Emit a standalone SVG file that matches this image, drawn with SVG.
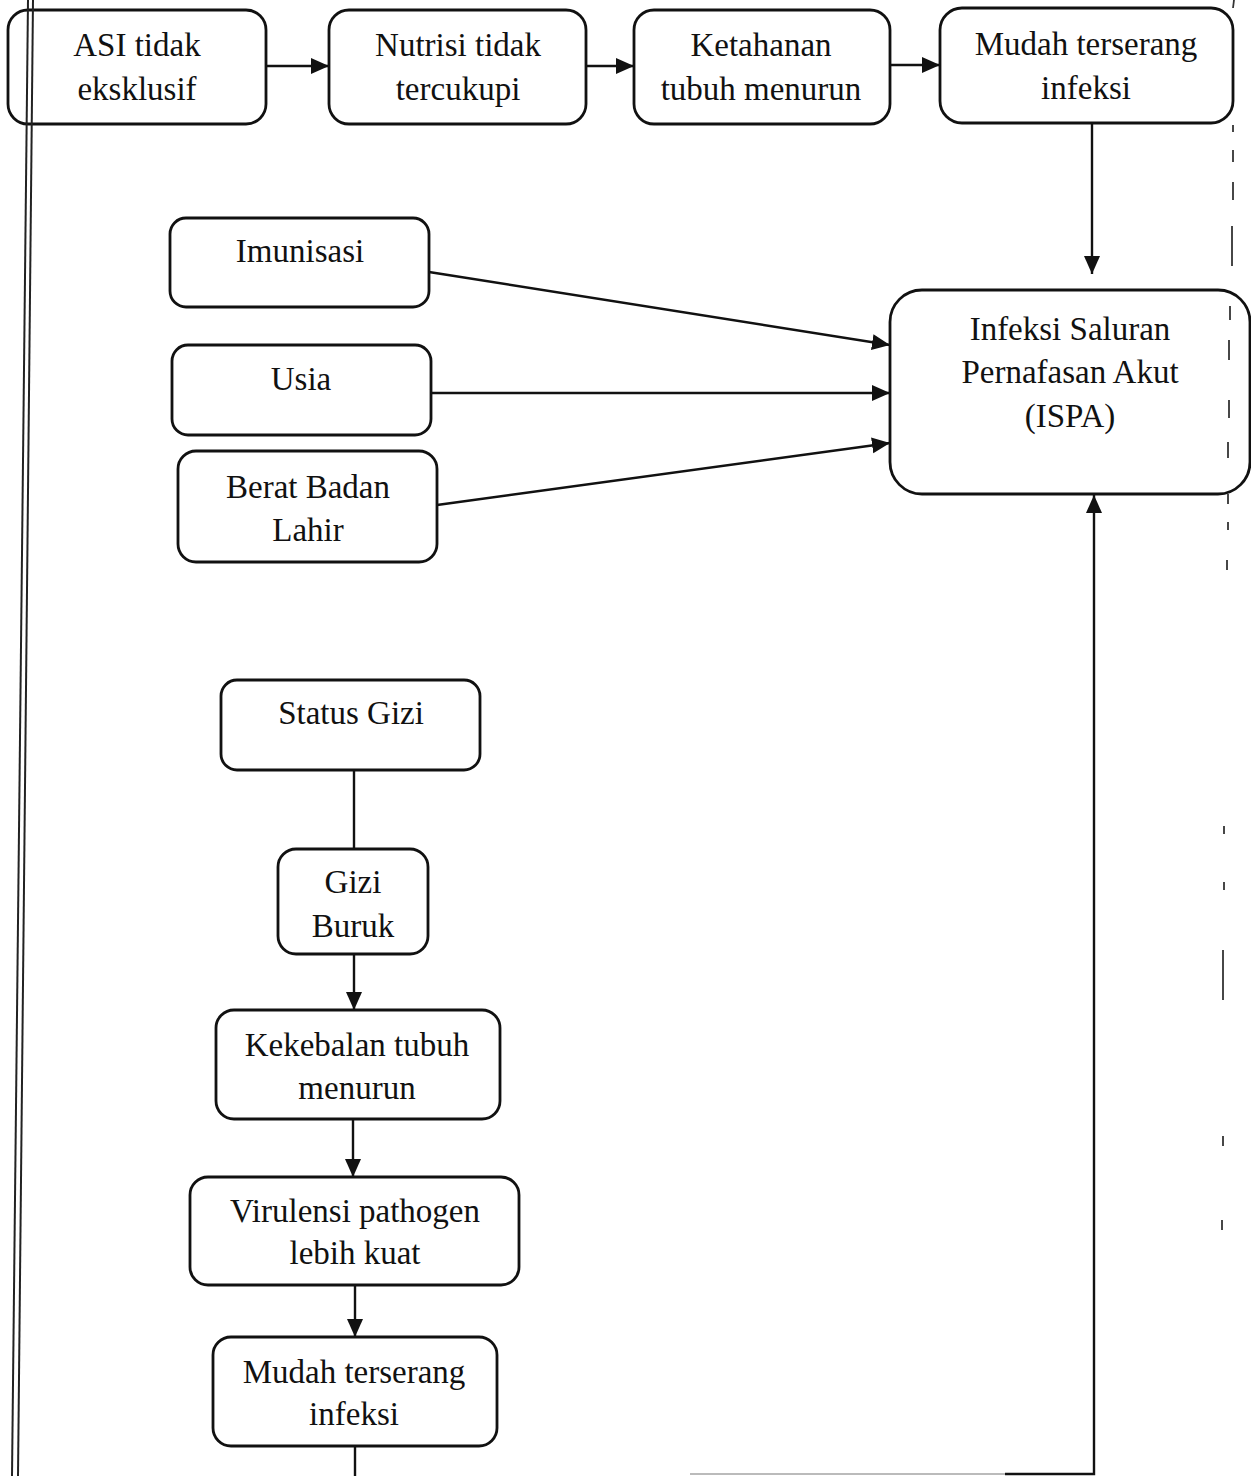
<svg xmlns="http://www.w3.org/2000/svg" width="1251" height="1476" viewBox="0 0 1251 1476">
<style>
.box{fill:#fff;stroke:#111;stroke-width:2.8}
.t{font-family:"Liberation Serif","Times New Roman",serif;font-size:33px;fill:#111;text-anchor:middle}
.c{fill:none;stroke:#111;stroke-width:2.4}
.frame{fill:none;stroke:#222;stroke-width:2}
.d{stroke:#333;stroke-width:1.8}
</style>
<defs>
<marker id="ah" markerUnits="userSpaceOnUse" markerWidth="20" markerHeight="18" refX="18" refY="8" orient="auto">
<path d="M0,0 L18,8 L0,16 Z" fill="#111"/>
</marker>
</defs>
<rect width="1251" height="1476" fill="#fff"/>
<g id="connectors">
<line class="c" x1="266" y1="66" x2="329" y2="66" marker-end="url(#ah)"/>
<line class="c" x1="586" y1="66" x2="634" y2="66" marker-end="url(#ah)"/>
<line class="c" x1="890" y1="65" x2="940" y2="65" marker-end="url(#ah)"/>
<line class="c" x1="1092" y1="123" x2="1092" y2="274" marker-end="url(#ah)"/>
<line class="c" x1="429" y1="272" x2="890" y2="345" marker-end="url(#ah)"/>
<line class="c" x1="431" y1="393" x2="890" y2="393" marker-end="url(#ah)"/>
<line class="c" x1="437" y1="505" x2="890" y2="443" marker-end="url(#ah)"/>
<line class="c" x1="354" y1="770" x2="354" y2="849"/>
<line class="c" x1="354" y1="954" x2="354" y2="1010" marker-end="url(#ah)"/>
<line class="c" x1="353" y1="1119" x2="353" y2="1177" marker-end="url(#ah)"/>
<line class="c" x1="355" y1="1285" x2="355" y2="1337" marker-end="url(#ah)"/>
<line class="c" x1="355" y1="1446" x2="355" y2="1476"/>
<line x1="690" y1="1474" x2="1005" y2="1474" stroke="#bbb" stroke-width="2"/>
<path class="c" d="M1005,1474 H1094 V495" marker-end="url(#ah)"/>
</g>
<g id="n1"><rect class="box" x="8" y="10" width="258" height="114" rx="20"/><text class="t" x="137" y="56">ASI  tidak</text><text class="t" x="137" y="100">eksklusif</text></g>
<g id="n2"><rect class="box" x="329" y="10" width="257" height="114" rx="20"/><text class="t" x="458" y="56">Nutrisi tidak</text><text class="t" x="458" y="100">tercukupi</text></g>
<g id="n3"><rect class="box" x="634" y="10" width="256" height="114" rx="20"/><text class="t" x="761" y="56">Ketahanan</text><text class="t" x="761" y="100">tubuh menurun</text></g>
<g id="n4"><rect class="box" x="940" y="8" width="293" height="115" rx="22"/><text class="t" x="1086" y="55">Mudah terserang</text><text class="t" x="1086" y="99">infeksi</text></g>
<g id="ispa"><rect class="box" x="890" y="290" width="360" height="204" rx="32"/><text class="t" x="1070" y="340">Infeksi Saluran</text><text class="t" x="1070" y="383">Pernafasan Akut</text><text class="t" x="1070" y="427">(ISPA)</text></g>
<g id="imunisasi"><rect class="box" x="170" y="218" width="259" height="89" rx="16"/><text class="t" x="300" y="262">Imunisasi</text></g>
<g id="usia"><rect class="box" x="172" y="345" width="259" height="90" rx="16"/><text class="t" x="301" y="390">Usia</text></g>
<g id="bbl"><rect class="box" x="178" y="451" width="259" height="111" rx="18"/><text class="t" x="308" y="498">Berat Badan</text><text class="t" x="308" y="541">Lahir</text></g>
<g id="statusgizi"><rect class="box" x="221" y="680" width="259" height="90" rx="16"/><text class="t" x="351" y="724">Status Gizi</text></g>
<g id="giziburuk"><rect class="box" x="278" y="849" width="150" height="105" rx="18"/><text class="t" x="353" y="893">Gizi</text><text class="t" x="353" y="937">Buruk</text></g>
<g id="kekebalan"><rect class="box" x="216" y="1010" width="284" height="109" rx="18"/><text class="t" x="357" y="1056">Kekebalan tubuh</text><text class="t" x="357" y="1099">menurun</text></g>
<g id="virulensi"><rect class="box" x="190" y="1177" width="329" height="108" rx="18"/><text class="t" x="355" y="1222">Virulensi pathogen</text><text class="t" x="355" y="1264">lebih kuat</text></g>
<g id="mudah2"><rect class="box" x="213" y="1337" width="284" height="109" rx="18"/><text class="t" x="354" y="1383">Mudah terserang</text><text class="t" x="354" y="1425">infeksi</text></g>
<g id="frame">
<line class="frame" x1="28" y1="0" x2="12" y2="1476"/>
<line class="frame" x1="33" y1="0" x2="18" y2="1476"/>
<line class="d" x1="1234" y1="0" x2="1233" y2="8"/>
<line class="d" x1="1233" y1="125" x2="1233" y2="132"/>
<line class="d" x1="1233" y1="150" x2="1233" y2="162"/>
<line class="d" x1="1233" y1="182" x2="1233" y2="200"/>
<line class="d" x1="1232" y1="226" x2="1232" y2="266"/>
<line class="d" x1="1230" y1="306" x2="1230" y2="320"/>
<line class="d" x1="1229" y1="340" x2="1229" y2="360"/>
<line class="d" x1="1229" y1="400" x2="1229" y2="418"/>
<line class="d" x1="1228" y1="442" x2="1228" y2="458"/>
<line class="d" x1="1228" y1="494" x2="1228" y2="504"/>
<line class="d" x1="1228" y1="522" x2="1228" y2="530"/>
<line class="d" x1="1227" y1="560" x2="1227" y2="570"/>
<line class="d" x1="1224" y1="826" x2="1224" y2="834"/>
<line class="d" x1="1224" y1="882" x2="1224" y2="890"/>
<line class="d" x1="1223" y1="950" x2="1223" y2="1000"/>
<line class="d" x1="1223" y1="1136" x2="1223" y2="1146"/>
<line class="d" x1="1222" y1="1220" x2="1222" y2="1230"/>
</g>
</svg>
